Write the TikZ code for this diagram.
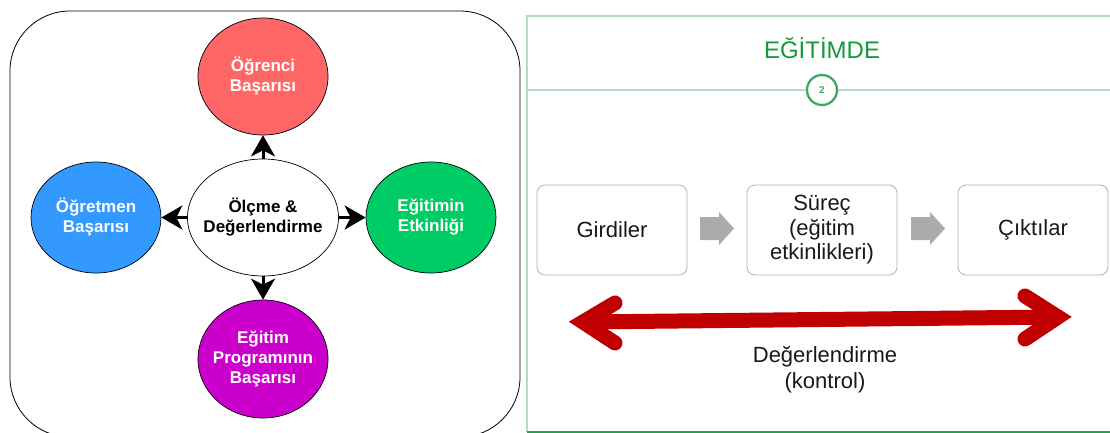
\documentclass[tikz,border=0pt]{standalone}
\usepackage{fontspec}
\setmainfont{Liberation Sans}
\usetikzlibrary{shapes.geometric,arrows.meta}
\definecolor{ogrred}{HTML}{FF6666}
\definecolor{ogtblue}{HTML}{3399FF}
\definecolor{etkgreen}{HTML}{00CC66}
\definecolor{prgpurple}{HTML}{CC00CC}
\definecolor{frameline}{HTML}{B4DCBC}
\definecolor{framedark}{HTML}{1FA04A}
\definecolor{titlegreen}{HTML}{139A3A}
\definecolor{ringgreen}{HTML}{3DAA62}
\definecolor{evalred}{HTML}{C00000}
\definecolor{blockgray}{HTML}{ABABAB}
\begin{document}
\begin{tikzpicture}[x=1pt,y=-1pt,
  bubble/.style={ellipse, draw=black, line width=0.7pt, inner sep=0pt},
  bubtext/.style={font=\fontsize{17}{20}\selectfont\bfseries, align=center, text=white},
  spoke/.style={line width=3pt, -{Stealth[length=21pt,width=24pt,inset=6pt]}},
  stagebox/.style={draw=black!30, line width=0.8pt, rounded corners=8pt,
    minimum width=150pt, minimum height=90pt, inner sep=0pt, align=center,
    font=\fontsize{22}{24.5}\selectfont, text=black!90},
  evalarrow/.style={draw=evalred, line width=15pt},
  panelline/.style={draw=frameline, line width=1.5pt}]
\useasboundingbox (0,0) rectangle (1110,433);
\clip (0,0) rectangle (1110,433);
\fill[white] (0,0) rectangle (1110,433);

% ---------- left panel: measurement & evaluation hub ----------
\draw[line width=0.8pt, rounded corners=60pt] (10,11) rectangle (520,437);

\node[bubble, fill=white, minimum width=151pt, minimum height=117pt,
  label={[bubtext, text=black]center:{Ölçme \&\\Değerlendirme}}] (olc) at (263,217.5) {};
\node[bubble, fill=ogrred, minimum width=130pt, minimum height=117pt,
  label={[bubtext]center:{Öğrenci\\Başarısı}}] (ogr) at (263,76.5) {};
\node[bubble, fill=ogtblue, minimum width=130pt, minimum height=111pt,
  label={[bubtext]center:{Öğretmen\\Başarısı}}] (ogt) at (96,217.5) {};
\node[bubble, fill=etkgreen, minimum width=130pt, minimum height=111pt,
  label={[bubtext]center:{Eğitimin\\Etkinliği}}] (etk) at (431,217.5) {};
\node[bubble, fill=prgpurple, minimum width=130pt, minimum height=118pt,
  label={[bubtext]center:{Eğitim\\Programının\\Başarısı}}] (prg) at (263,359) {};

\draw[spoke] (olc) -- (ogr);
\draw[spoke] (olc) -- (ogt);
\draw[spoke] (olc) -- (etk);
\draw[spoke] (olc) -- (prg);

% ---------- right panel: input / process / output ----------
\coordinate (pTL) at (527,16);
\coordinate (pTR) at (1110,16);
\coordinate (pBL) at (527,432);
\coordinate (pBR) at (1110,432);
\draw[panelline] (pBL) -- (pTL) -- (pTR);
\draw[draw=framedark, line width=3pt] (pBL) -- (pBR);

\node[font=\fontsize{24}{26}\selectfont, text=titlegreen] (title) at (822,48) {EĞİTİMDE};

\node[circle, draw=ringgreen, line width=2.3pt, minimum size=30pt, inner sep=0pt,
  font=\fontsize{10}{10}\selectfont\bfseries, text=ringgreen] (num) at (822,90) {2};
\coordinate (ruleL) at (527,90);
\coordinate (ruleR) at (1110,90);
\draw[panelline] (ruleL) -- (num.west);
\draw[panelline] (num.east) -- (ruleR);

\node[stagebox] (gir) at (612,230) {Girdiler};
\node[stagebox] (sur) at (822,230) {Süreç\\(eğitim\\etkinlikleri)};
\node[stagebox] (cik) at (1033,230) {Çıktılar};

% block arrows between the stages
\coordinate (f1) at (717,228.5);
\coordinate (f2) at (928,228.5);
\foreach \f in {f1,f2}
  \fill[blockgray, shift={(\f)}] (-17,-11.5) -- (2,-11.5) -- (2,-16.5) -- (17,0)
    -- (2,16.5) -- (2,11.5) -- (-17,11.5) -- cycle;

% evaluation spans the whole chain
\coordinate (evL) at (583,322);
\coordinate (evR) at (1058,317);
\coordinate (evLa) at (615,303);
\coordinate (evLb) at (615,343);
\coordinate (evRa) at (1025,296);
\coordinate (evRb) at (1025,339);
\draw[evalarrow, line cap=butt] (evL) -- (evR);
\draw[evalarrow, line cap=round, line join=miter] (evLa) -- (evL) -- (evLb);
\draw[evalarrow, line cap=round, line join=miter] (evRa) -- (evR) -- (evRb);

\node[align=center, font=\fontsize{22}{26}\selectfont, text=black!90] (deg) at (825,370)
  {Değerlendirme\\(kontrol)};
\end{tikzpicture}
\end{document}
